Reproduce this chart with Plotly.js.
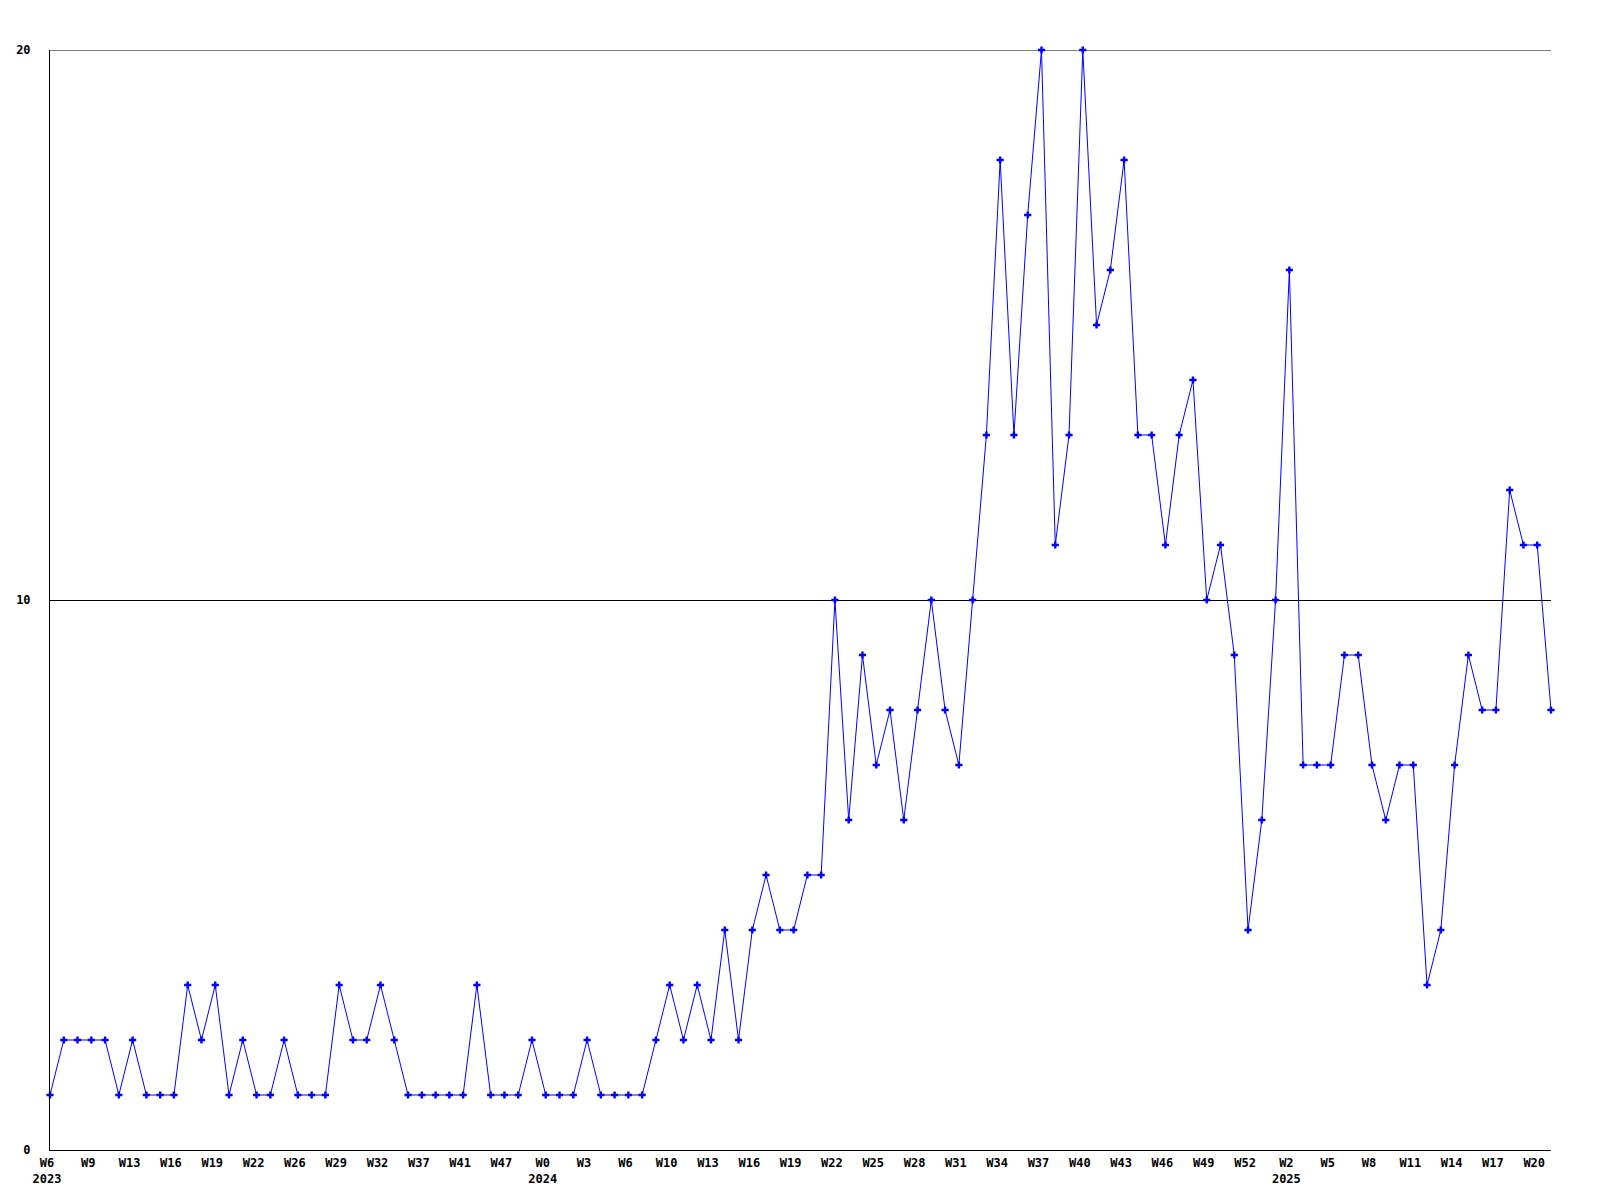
<!DOCTYPE html>
<html>
<head>
<meta charset="utf-8">
<script src="https://cdn.plot.ly/plotly-3.0.1.min.js"></script>
<style>html,body{margin:0;padding:0;background:#fff;}#chart{width:1600px;height:1200px;}</style>
</head>
<body>
<div id="chart"></div>
<script>
// Weekly counts, one value per plotted point (110 points)
const values = [
  1,2,2,2,2,1,2,1,1,1,
  3,2,3,1,2,1,1,2,1,1,
  1,3,2,2,3,2,1,1,1,1,
  1,3,1,1,1,2,1,1,1,2,
  1,1,1,1,2,3,2,3,2,4,
  2,4,5,4,4,5,5,10,6,9,
  7,8,6,8,10,8,7,10,13,18,
  13,17,20,11,13,20,15,16,18,13,
  13,11,13,14,10,11,9,4,6,10,
  16,7,7,7,9,9,7,6,7,7,
  3,4,7,9,8,8,12,11,11,8
];
// Tick labels shown every 3rd point
const tickWeeks = ["W6","W9","W13","W16","W19","W22","W26","W29","W32","W37","W41","W47",
  "W0","W3","W6","W10","W13","W16","W19","W22","W25","W28","W31","W34","W37","W40","W43","W46","W49","W52",
  "W2","W5","W8","W11","W14","W17","W20"];
const tickYears = {0:"2023", 12:"2024", 30:"2025"};
const yTicks = [0,10,20];

const xs = values.map((v,i)=>i);
const tickvals = tickWeeks.map((w,i)=>i*3);
const ticktext = tickWeeks.map((w,i)=> tickYears[i] ? w + "<br>" + tickYears[i] : w);

const font = {family:"DejaVu Sans Mono, monospace", size:12, color:"#000", weight:"bold"};

Plotly.newPlot("chart", [{
  x: xs, y: values, type:"scatter", mode:"lines+markers",
  line:{color:"#0000ff", width:1},
  marker:{color:"#0000ff", symbol:"cross", size:6},
  cliponaxis:false, hoverinfo:"skip"
}], {
  width:1600, height:1200,
  margin:{l:50, r:49, t:50, b:50},
  paper_bgcolor:"#fff", plot_bgcolor:"#fff",
  showlegend:false,
  font: font,
  xaxis:{
    range:[0, values.length-1], tickmode:"array", tickvals:tickvals, ticktext:ticktext,
    showgrid:false, zeroline:false, showline:true, linecolor:"#000", linewidth:1,
    ticks:"", tickfont:font, tickangle:0, ticklabelshift:-3, ticklabelstandoff:2
  },
  yaxis:{
    range:[0,20], tickmode:"array", tickvals:yTicks, ticktext:yTicks.map(String),
    showgrid:true, gridcolor:"#000", gridwidth:1, zeroline:false,
    showline:true, linecolor:"#000", linewidth:1, ticks:"", tickfont:font,
    ticklabelstandoff:16
  },
  shapes:[{
    type:"line", xref:"paper", yref:"y", x0:0, x1:1,
    y0:Math.max(...yTicks), y1:Math.max(...yTicks),
    line:{color:"#000", width:1}, layer:"below"
  }]
}, {staticPlot:true});
</script>
</body>
</html>
